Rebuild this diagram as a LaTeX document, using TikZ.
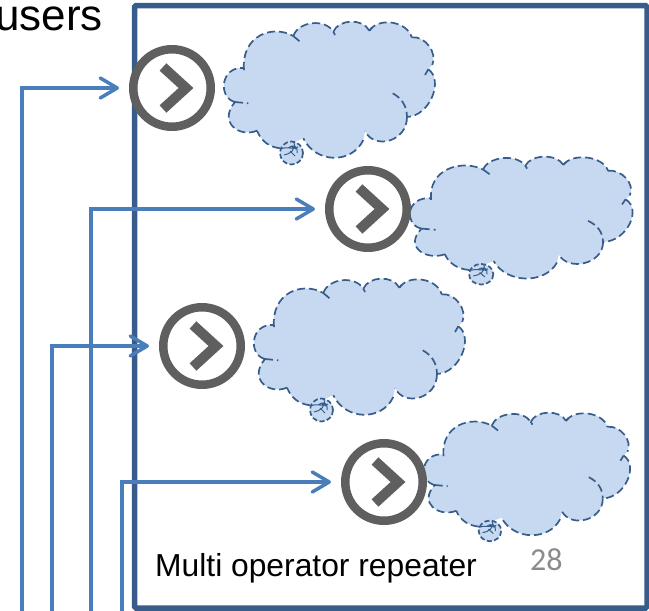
\documentclass[tikz,border=0pt]{standalone}
\usepackage{fontspec}
\setmainfont{Liberation Sans}
\newfontfamily\calib{Carlito}
\usetikzlibrary{arrows.meta}
\definecolor{framecol}{HTML}{385D8A}
\definecolor{linecol}{HTML}{4A7EBB}
\definecolor{cloudfill}{HTML}{C6D9F1}
\definecolor{ringcol}{HTML}{5F5F5F}
\definecolor{numcol}{HTML}{8B8B8B}
\newcommand{\cloudlobes}[1]{
 (20,48) .. controls (17,14) and (48,2) .. (69.3,14) #1
 (69.3,14) to[bend left=65] (109.3,9.7) #1
 (109.3,9.7) to[bend left=65] (145.3,8.7) #1
 (145.3,8.7) to[bend left=65] (187.7,15.3) #1
 (187.7,15.3) to[bend left=60] (208.3,43) #1
 (204.3,47.3) .. controls (220,58) and (206,94) .. (183,95) #1
 (183,95) .. controls (183,120) and (150,128) .. (141,109) #1
 (139.3,118) .. controls (128,142) and (92,142) .. (79.3,116.3) #1
 (56,126.3) to[bend left=30] (33,108.7) #1
 (33,108.7) .. controls (15,116) and (-6,100) .. (11,80) #1
 (11,80) .. controls (-6,76) and (-4,44) .. (20,46) #1
 (20,46) -- (20,48)
}
\tikzset{
 x=1pt,y=-1pt,
 framebox/.style={draw=framecol,line width=5.5pt,rounded corners=1.5pt},
 ringnode/.style={circle,draw=ringcol,line width=8.5pt,fill=white,minimum size=77.5pt,inner sep=0pt,outer sep=4.25pt},
 chev/.style={draw=ringcol,line width=10pt,miter limit=10},
 conn/.style={draw=linecol,line width=3.5pt,-{Straight Barb[round,length=17pt,width=20pt,line width=3.5pt]},shorten >=10pt},
 cloudline/.style={draw=framecol,line width=1.7pt,dash pattern=on 8pt off 4pt},
 handline/.style={draw=framecol,line width=1pt},
 cloudpic/.pic={
  \fill[cloudfill] \cloudlobes{--} -- cycle;
  \draw[cloudline] \cloudlobes{};
  \draw[cloudline] (69.3,14) -- (76,19.7);
  \draw[cloudline,dash pattern=on 5pt off 0pt] (109.3,9.7) -- (111,13);
  \draw[cloudline,dash pattern=on 5pt off 0pt] (145.3,8.7) -- (148,5.5);
  \draw[cloudline,dash pattern=on 5pt off 0pt] (204.3,47.3) -- (201,53);
  \draw[cloudline] (168.7,71.3) to[bend left=30] (183,95);
  \draw[cloudline] (11,80) -- (24.3,81.3);
  \fill[cloudfill] (67.5,131) circle[radius=11.5];
  \draw[cloudline,dash pattern=on 5pt off 2.5pt] (67.5,131) circle[radius=11.5];
  \draw[handline] (56,127) .. controls (62,124) and (70,128) .. (74,125)
    (60,133) .. controls (66,132) and (72,128) .. (70,120)
    (64,126) .. controls (70,122) and (74,124) .. (73,131)
    (67,124) -- (72,127) (66,129) -- (71,134);
 },
}
\begin{document}
\begin{tikzpicture}
\useasboundingbox (0,0) rectangle (649,611);
\draw[framebox] (134.5,5.5) rectangle (647,608);
\pic[shift={(224,22)}] {cloudpic};
\pic[shift={(410,157)},xscale=1.055,yscale=.895] {cloudpic};
\pic[shift={(254,279)}] {cloudpic};
\pic[shift={(424,413)},xscale=.977,yscale=.9] {cloudpic};
\coordinate (s1) at (22,611);
\coordinate (s2) at (91,611);
\coordinate (s3) at (52,611);
\coordinate (s4) at (122,611);
\node[ringnode] (c1) at (172,88) {};
\node[ringnode] (c2) at (368,209) {};
\node[ringnode] (c3) at (202,346) {};
\node[ringnode] (c4) at (384,482) {};
\draw[conn] (s1) |- (c1);
\draw[conn] (s2) |- (c2);
\draw[conn] (s3) |- (c3);
\draw[conn] (s4) |- (c4);
\foreach \c in {c1,c2,c3,c4}{
 \draw[chev] ([shift={(-9,-21)}]\c.center) -- ([shift={(14,0)}]\c.center) -- ([shift={(-9,21)}]\c.center);
}
\node[anchor=base west,inner sep=0pt,font=\fontsize{44}{44}\selectfont] (users) at (-5,30) {users};
\node[anchor=base west,inner sep=0pt,font=\fontsize{31.8}{32}\selectfont] (lab) at (155,576) {Multi operator repeater};
\node[anchor=base west,inner sep=0pt,text=numcol,font=\calib\fontsize{32}{32}\selectfont] (num) at (530,570) {28};
\end{tikzpicture}
\end{document}
